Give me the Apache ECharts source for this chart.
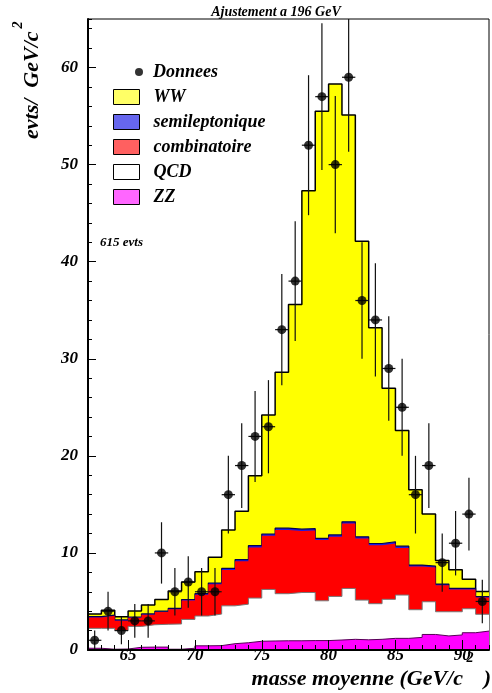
<!DOCTYPE html>
<html>
<head>
<meta charset="utf-8">
<script src="https://cdn.jsdelivr.net/npm/echarts@6/dist/echarts.min.js"></script>
<style>
html,body{margin:0;padding:0;background:#fff;}
#chart{width:492px;height:693px;}
</style>
</head>
<body>
<div id="chart"></div>
<script>
// ---- data ----
const massBins = [62.5,63.5,64.5,65.5,66.5,67.5,68.5,69.5,70.5,71.5,72.5,73.5,74.5,75.5,76.5,77.5,78.5,79.5,80.5,81.5,82.5,83.5,84.5,85.5,86.5,87.5,88.5,89.5,90.5,91.5];
const binWidth = 1;
const donnees = [1,4,2,3,3,10,6,7,6,6,16,19,22,23,33,38,52,57,50,59,36,34,29,25,16,19,9,11,14,5];
const donneesErr = [1,2,1.41,1.73,1.73,3.16,2.45,2.65,2.45,2.45,4,4.36,4.69,4.80,5.74,6.16,7.21,7.55,7.07,7.68,6,5.83,5.39,5,4,4.36,3,3.32,3.74,2.24];
const ww   = [0.29,0.5,0.33,0.63,0.91,1.2,1.8,1.8,2.26,2.66,3.95,5.0,7.2,12.25,16.05,23.15,34.8,44.0,46.45,41.9,30.44,22.23,15.81,11.9,7.75,5.36,2.43,1.93,0.94,0.53];
const semileptonique = [0.08,0.08,0.08,0.08,0.08,0.08,0.08,0.1,0.1,0.12,0.15,0.15,0.18,0.18,0.18,0.18,0.18,0.18,0.18,0.18,0.18,0.18,0.18,0.18,0.15,0.15,0.12,0.12,0.1,0.1];
const combinatoire = [1.12,1.29,1.02,0.89,1.04,1.27,1.52,1.95,2.2,3.08,3.7,4.43,5.22,5.53,6.57,6.35,6.4,6.25,6.15,6.68,6.34,6.02,5.75,4.86,4.45,3.52,2.73,2.28,1.99,1.72];
const qcd  = [2.05,2.15,1.9,2.15,2.3,2.35,2.6,2.97,3.07,3.25,3.9,3.97,4.45,5.31,4.85,4.97,4.95,4.1,4.49,5.24,4.09,3.67,4.02,4.46,2.85,3.37,2.49,2.39,2.47,1.73];
const zz   = [0.18,0.08,0.1,0.28,0.3,0.3,0.08,0.18,0.43,0.45,0.65,0.75,0.9,0.93,0.95,0.95,0.97,0.97,1.03,1.1,1.05,1.1,1.2,1.2,1.3,1.6,1.45,1.55,1.78,1.95];
const xTickLabels = [65,70,75,80,85,90];
const yTickLabels = [0,10,20,30,40,50,60];
const xMin = 62, xMax = 92, yMin = 0, yMax = 65;

// ---- build stacked levels (cumulative) ----
function addArr(a, b){ return a.map((v,i)=>v + b[i]); }
const lvlZZ = zz.slice();
const lvlQCD = addArr(lvlZZ, qcd);
const lvlComb = addArr(lvlQCD, combinatoire);
const lvlSemi = addArr(lvlComb, semileptonique);
const lvlWW = addArr(lvlSemi, ww);

// histogram step points at bin edges
function stepData(levels){
  const pts = levels.map((v,i)=>[massBins[i]-binWidth/2, v]);
  const last = levels.length-1;
  pts.push([massBins[last]+binWidth/2, levels[last]]);
  return pts;
}

const FONT = '"Liberation Serif", "Times New Roman", serif';
const txt = (size) => ({fontFamily: FONT, fontWeight: 'bold', fontStyle: 'italic', fontSize: size, color: '#000'});

function histSeries(name, levels, fill, lineColor, lineWidth, z){
  return {
    name: name, type: 'line', step: 'end', data: stepData(levels), z: z,
    symbol: 'none', showSymbol: false, silent: true, animation: false,
    itemStyle: {color: fill},
    lineStyle: {color: lineColor, width: lineWidth},
    areaStyle: {color: fill, opacity: 1},
    xAxisIndex: 0, yAxisIndex: 0
  };
}

const chart = echarts.init(document.getElementById('chart'), null, {renderer: 'canvas'});
const option = {
  animation: false,
  backgroundColor: '#fff',
  grid: {left: 88, right: 1, top: 19, bottom: 43, show: true, borderColor: '#000', borderWidth: 1, backgroundColor: 'transparent'},
  xAxis: [
    {type: 'value', min: xMin, max: xMax, interval: 1, position: 'bottom', z: 20,
     axisLine: {show: true, onZero: false, lineStyle: {color: '#000', width: 2}},
     axisTick: {show: true, inside: true, length: 5, lineStyle: {color: '#000', width: 1}},
     axisLabel: {show: true, margin: -3, ...txt(17), formatter: v => xTickLabels.indexOf(v) >= 0 ? String(v) : ''},
     splitLine: {show: false}},
    {type: 'value', min: xMin, max: xMax, position: 'bottom', z: 20,
     axisLine: {show: false},
     axisTick: {show: true, inside: true, length: 10, customValues: xTickLabels, lineStyle: {color: '#000', width: 1}},
     axisLabel: {show: false}, splitLine: {show: false}}
  ],
  yAxis: [
    {type: 'value', min: yMin, max: yMax, interval: 2, position: 'left', z: 20,
     axisLine: {show: true, onZero: false, lineStyle: {color: '#000', width: 2}},
     axisTick: {show: true, inside: true, length: 4, lineStyle: {color: '#000', width: 1}},
     axisLabel: {show: true, margin: 10, ...txt(17), formatter: v => yTickLabels.indexOf(v) >= 0 ? String(v) : ''},
     splitLine: {show: false}},
    {type: 'value', min: yMin, max: yMax, position: 'left', z: 20,
     axisLine: {show: false},
     axisTick: {show: true, inside: true, length: 8, customValues: yTickLabels, lineStyle: {color: '#000', width: 1}},
     axisLabel: {show: false}, splitLine: {show: false}}
  ],
  legend: [
    {data: [{name: 'Donnees', icon: 'circle', itemStyle: {color: '#000'}}],
     orient: 'vertical', left: 135, top: 63, padding: 0, itemWidth: 8, itemHeight: 8, selectedMode: false,
     textStyle: {...txt(18), padding: [0,0,0,5]}},
    {data: [
      {name: 'WW', icon: 'rect', itemStyle: {color: '#ffff66', borderColor: '#000', borderWidth: 1}},
      {name: 'semileptonique', icon: 'rect', itemStyle: {color: '#6666ee', borderColor: '#000', borderWidth: 1}},
      {name: 'combinatoire', icon: 'rect', itemStyle: {color: '#ff6060', borderColor: '#000', borderWidth: 1}},
      {name: 'QCD', icon: 'rect', itemStyle: {color: '#ffffff', borderColor: '#000', borderWidth: 1}},
      {name: 'ZZ', icon: 'rect', itemStyle: {color: '#ff66ff', borderColor: '#000', borderWidth: 1}}
     ],
     orient: 'vertical', left: 113, top: 88, padding: 0, itemWidth: 26, itemHeight: 15, itemGap: 7, selectedMode: false,
     textStyle: {...txt(18), padding: [0,0,0,9]}}
  ],
  series: [
    histSeries('WW', lvlWW, '#ffff00', '#000', 1.5, 2),
    histSeries('semileptonique', lvlSemi, '#1a1ae6', '#000050', 1.2, 3),
    histSeries('combinatoire', lvlComb, '#ff0000', '#ff0000', 0, 4),
    histSeries('QCD', lvlQCD, '#ffffff', '#777777', 1, 5),
    histSeries('ZZ', lvlZZ, '#ff00ff', '#550055', 1, 6),
    {
      name: 'erreurs', type: 'custom', silent: true, animation: false, z: 10,
      data: massBins.map((m,i)=>[m, donnees[i], donneesErr[i]]),
      renderItem: function(params, api){
        const x = api.value(0), y = api.value(1), e = api.value(2);
        const top = api.coord([x, Math.min(y + e, yMax)]);
        const bot = api.coord([x, Math.max(y - e, yMin)]);
        const l = api.coord([x - binWidth/2, y]);
        const r = api.coord([x + binWidth/2, y]);
        const st = {stroke: '#111', lineWidth: 1.2};
        return {type: 'group', children: [
          {type: 'line', shape: {x1: top[0], y1: top[1], x2: bot[0], y2: bot[1]}, style: st},
          {type: 'line', shape: {x1: l[0], y1: l[1], x2: r[0], y2: r[1]}, style: st}
        ]};
      }
    },
    {
      name: 'Donnees', type: 'scatter', silent: true, animation: false, z: 11,
      data: massBins.map((m,i)=>[m, donnees[i]]),
      symbol: 'circle', symbolSize: 9, itemStyle: {color: '#000'}
    }
  ],
  graphic: [
    {type: 'text', x: 276, y: 12, silent: true,
     style: {text: 'Ajustement a 196 GeV', font: 'italic bold 14px ' + FONT, fill: '#000', textAlign: 'center', align: 'center', textVerticalAlign: 'middle', verticalAlign: 'middle'}},
    {type: 'text', x: 100, y: 243, silent: true,
     style: {text: '615 evts', font: 'italic bold 13px ' + FONT, fill: '#000', textAlign: 'left', align: 'left', textVerticalAlign: 'middle', verticalAlign: 'middle'}},
    {type: 'text', x: 32, y: 139, rotation: Math.PI/2, silent: true,
     style: {text: 'evts/  GeV/c', font: 'italic bold 22px ' + FONT, fill: '#000', textAlign: 'left', align: 'left', textVerticalAlign: 'middle', verticalAlign: 'middle'}},
    {type: 'text', x: 18, y: 25, rotation: Math.PI/2, silent: true,
     style: {text: '2', font: 'italic bold 14px ' + FONT, fill: '#000', textAlign: 'center', align: 'center', textVerticalAlign: 'middle', verticalAlign: 'middle'}},
    {type: 'text', x: 463, y: 679, silent: true,
     style: {text: 'masse moyenne (GeV/c', font: 'italic bold 22px ' + FONT, fill: '#000', textAlign: 'right', align: 'right', textVerticalAlign: 'middle', verticalAlign: 'middle'}},
    {type: 'text', x: 470, y: 658, silent: true,
     style: {text: '2', font: 'italic bold 14px ' + FONT, fill: '#000', textAlign: 'center', align: 'center', textVerticalAlign: 'middle', verticalAlign: 'middle'}},
    {type: 'text', x: 491, y: 679, silent: true,
     style: {text: ')', font: 'italic bold 22px ' + FONT, fill: '#000', textAlign: 'right', align: 'right', textVerticalAlign: 'middle', verticalAlign: 'middle'}}
  ]
};
chart.setOption(option);
</script>
</body>
</html>
